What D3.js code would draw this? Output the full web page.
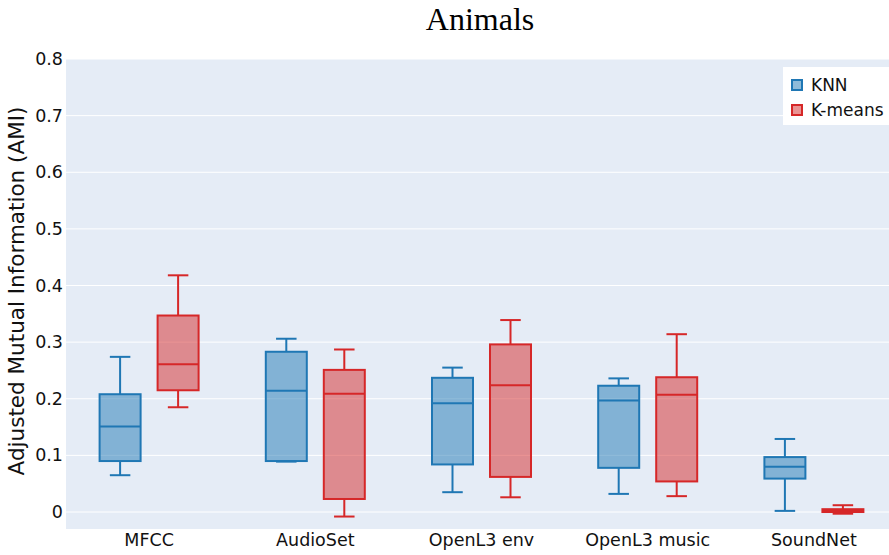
<!DOCTYPE html>
<html>
<head>
<meta charset="utf-8">
<script src="https://cdn.jsdelivr.net/npm/d3@7"></script>
<style>
  html, body { margin: 0; padding: 0; background: #fff; }
  svg { display: block; }
</style>
</head>
<body>
<svg id="chart" width="889" height="555"></svg>
<script>
// Feature sets on the x axis
const categories = ["MFCC", "AudioSet", "OpenL3 env", "OpenL3 music", "SoundNet"];
const seriesNames = ["KNN", "K-means"];

// Box statistics per feature set: lower fence, Q1, median, Q3, upper fence
const knnLower  = [0.065, 0.089, 0.035, 0.032, 0.002];
const knnQ1     = [0.090, 0.090, 0.084, 0.078, 0.059];
const knnMedian = [0.151, 0.214, 0.192, 0.197, 0.080];
const knnQ3     = [0.208, 0.283, 0.237, 0.223, 0.097];
const knnUpper  = [0.274, 0.306, 0.255, 0.236, 0.129];

const kmLower  = [0.185, -0.008, 0.026, 0.028, -0.003];
const kmQ1     = [0.215, 0.023, 0.062, 0.054, 0.000];
const kmMedian = [0.261, 0.209, 0.224, 0.207, 0.003];
const kmQ3     = [0.347, 0.251, 0.296, 0.238, 0.005];
const kmUpper  = [0.418, 0.287, 0.339, 0.314, 0.012];

const yTicks = [0, 0.1, 0.2, 0.3, 0.4, 0.5, 0.6, 0.7, 0.8];
const yTickLabels = ["0", "0.1", "0.2", "0.3", "0.4", "0.5", "0.6", "0.7", "0.8"];

const colors = { "KNN": "#1f77b4", "K-means": "#d62728" };
const textColor = "#111";
const sans = "DejaVu Sans, sans-serif";

function buildSeries(name, lo, q1, med, q3, hi) {
  return categories.map((c, i) => ({
    series: name, category: c,
    lower: lo[i], q1: q1[i], median: med[i], q3: q3[i], upper: hi[i]
  }));
}
const boxes = [
  ...buildSeries("KNN", knnLower, knnQ1, knnMedian, knnQ3, knnUpper),
  ...buildSeries("K-means", kmLower, kmQ1, kmMedian, kmQ3, kmUpper)
];

const svg = d3.select("#chart");
const margin = { left: 66, right: -8, top: 59, bottom: 26 };
const W = 889, H = 555;
const plotL = margin.left, plotR = W - margin.right;
const plotT = margin.top, plotB = H - margin.bottom;

const x = d3.scaleBand().domain(categories).range([plotL, plotR]);
const xOff = d3.scalePoint().domain(seriesNames).range([-29, 29]);
const boxW = 41;
const y = d3.scaleLinear().domain([-0.03, 0.8]).range([plotB, plotT]);

// plot background
svg.append("rect")
  .attr("x", plotL).attr("y", plotT)
  .attr("width", plotR - plotL).attr("height", plotB - plotT)
  .attr("fill", "#e5ecf6");

// horizontal grid
svg.append("g")
  .selectAll("line").data(yTicks).join("line")
  .attr("x1", plotL).attr("x2", plotR)
  .attr("y1", d => y(d)).attr("y2", d => y(d))
  .attr("stroke", "#fff").attr("stroke-width", 1);

// y axis labels
const yAxis = d3.axisLeft(y).tickValues(yTicks)
  .tickFormat((d, i) => yTickLabels[i]).tickSize(0).tickPadding(3);
const gy = svg.append("g").attr("transform", `translate(${plotL},0)`).call(yAxis);
gy.select(".domain").remove();
gy.selectAll("text")
  .attr("font-family", sans)
  .attr("font-size", 17.5).attr("fill", textColor);

// x axis labels
const xAxis = d3.axisBottom(x).tickSize(0).tickPadding(5);
const gx = svg.append("g").attr("transform", `translate(0,${plotB})`).call(xAxis);
gx.select(".domain").remove();
gx.selectAll("text")
  .attr("font-family", sans)
  .attr("font-size", 17.5).attr("fill", textColor);

// axis title
svg.append("text")
  .attr("transform", `translate(24,${(plotT + plotB) / 2 - 3}) rotate(-90)`)
  .attr("text-anchor", "middle")
  .attr("font-family", sans)
  .attr("font-size", 21.5).attr("fill", textColor)
  .text("Adjusted Mutual Information (AMI)");

// chart title
svg.append("text")
  .attr("x", 480).attr("y", 30)
  .attr("text-anchor", "middle")
  .attr("font-family", "Liberation Serif, Times New Roman, serif")
  .attr("font-size", 32).attr("fill", "#000")
  .text("Animals");

// boxes
const g = svg.append("g").selectAll("g").data(boxes).join("g")
  .attr("transform", d => `translate(${x(d.category) + x.bandwidth() / 2 + xOff(d.series)},0)`);

g.each(function (d) {
  const s = d3.select(this);
  const c = colors[d.series];
  // whiskers
  s.append("line").attr("x1", 0).attr("x2", 0)
    .attr("y1", y(d.upper)).attr("y2", y(d.q3))
    .attr("stroke", c).attr("stroke-width", 2);
  s.append("line").attr("x1", 0).attr("x2", 0)
    .attr("y1", y(d.q1)).attr("y2", y(d.lower))
    .attr("stroke", c).attr("stroke-width", 2);
  [d.upper, d.lower].forEach(v => {
    s.append("line").attr("x1", -boxW / 4).attr("x2", boxW / 4)
      .attr("y1", y(v)).attr("y2", y(v))
      .attr("stroke", c).attr("stroke-width", 2);
  });
  // box
  s.append("rect")
    .attr("x", -boxW / 2).attr("width", boxW)
    .attr("y", y(d.q3)).attr("height", Math.max(0.5, y(d.q1) - y(d.q3)))
    .attr("fill", c).attr("fill-opacity", 0.5)
    .attr("stroke", c).attr("stroke-width", 2);
  // median
  s.append("line").attr("x1", -boxW / 2).attr("x2", boxW / 2)
    .attr("y1", y(d.median)).attr("y2", y(d.median))
    .attr("stroke", c).attr("stroke-width", 2);
});

// legend
const legend = svg.append("g").attr("transform", "translate(783,67)");
legend.append("rect").attr("width", 120).attr("height", 58).attr("fill", "#fff");
const li = legend.selectAll("g").data(seriesNames).join("g")
  .attr("transform", (d, i) => `translate(0,${18 + i * 25})`);
li.append("rect")
  .attr("x", 9).attr("y", -5).attr("width", 10).attr("height", 10)
  .attr("fill", d => colors[d]).attr("fill-opacity", 0.5)
  .attr("stroke", d => colors[d]).attr("stroke-width", 2);
li.append("text")
  .attr("x", 28).attr("y", 0).attr("dy", "0.35em")
  .attr("font-family", sans)
  .attr("font-size", 17).attr("fill", textColor)
  .text(d => d);
</script>
</body>
</html>
